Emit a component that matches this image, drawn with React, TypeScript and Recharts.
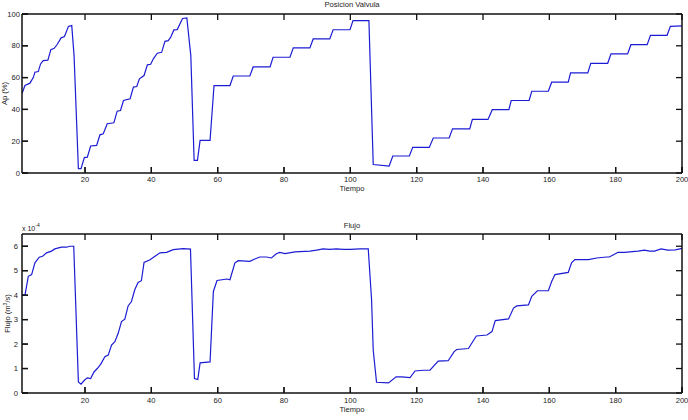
import { LineChart, Line, XAxis, YAxis, Label, ReferenceLine } from 'recharts';

const FONT = '"Liberation Sans", Arial, Helvetica, sans-serif';
const TRACE = '#1c1cd4';
const FRAME = '#111';
// negative tick size turns the tick marks inwards, MATLAB style
const TICK_IN = -6;
const PLOT_W = 660;
const PLOT_H = 159;

// Posicion de la valvula (%) en los quiebres de la respuesta
const posTiempo = [
  1, 1.9, 3.4, 4.4, 4.9, 5.9, 6.6, 7.4, 8.8, 9.7, 10.7, 11.5, 12.8, 13.8, 15, 16, 16.7,
  18, 18.8, 19.8, 20.7, 21.7, 23.5, 24.5, 25.5, 26.7, 28.7, 29.7, 30.7, 31.6, 33.6, 34.6,
  35.6, 36.4, 37.8, 38.8, 39.8, 40.6, 41.8, 43.1, 44.1, 45.1, 45.8, 46.8, 47.8, 49.4, 50.7,
  51.9, 52.9, 53.9, 54.7, 57.7, 58.9, 63.7, 64.7, 69.7, 70.7, 75.8, 76.7, 81.8, 82.8, 87.8,
  88.8, 93.8, 94.8, 99.9, 100.8, 105.6, 106.9, 111.7, 112.8, 117.8, 118.8, 123.8, 125,
  129.8, 130.8, 136, 136.8, 141.5, 142.8, 147.8, 148.5, 153.9, 154.7, 159.7, 160.7, 165.7,
  166.4, 171.6, 172.5, 177.6, 178.6, 183.6, 184.6, 189.5, 190.5, 195.5, 196.5, 200,
];
const posValvula = [
  50, 55, 56.5, 60, 63.4, 63.8, 68.6, 70.7, 71, 77.6, 78.4, 80.5, 85, 85.8, 92.2, 92.7, 73.8,
  2.7, 2.7, 9.7, 10, 17, 17.4, 24, 24.7, 31, 31.6, 38.9, 39.3, 45.6, 46.7, 54,
  54.4, 59.2, 61.3, 68, 68.4, 71.8, 75.3, 75.9, 82.8, 83.2, 85.3, 90, 90.2, 97.2, 97.5,
  73.8, 8, 8, 20.5, 20.5, 55, 55, 61, 61, 66.7, 66.7, 72.8, 72.8, 78.7, 78.7,
  84.3, 84.3, 90.1, 90.1, 95.8, 95.8, 5.3, 4.4, 10.7, 10.7, 16.1, 16.1, 22,
  22, 27.8, 27.8, 33.7, 33.7, 39.8, 39.8, 45.6, 45.6, 51.4, 51.4, 57.1, 57.1,
  63, 63, 69, 69, 74.9, 74.9, 80.7, 80.7, 86.6, 86.6, 92.2, 92.5,
];

// Flujo en unidades de 1e-4 m3/s
const flujoTiempo = [
  1, 1.9, 2.9, 3.9, 4.9, 6.2, 7.2, 8.4, 9.9, 10.9, 12.9, 14.4, 15.4, 16.6, 18, 18.8, 19.8,
  20.7, 21.7, 22.7, 23.7, 24.7, 26, 27, 28, 29, 30, 31, 32, 33, 34, 35, 36, 37, 37.8, 39.6,
  41.1, 42.6, 44.6, 46.6, 49.6, 51.8, 53, 54, 54.7, 57.7, 58.7, 59.8, 61.3, 62.8, 63.7, 65.2,
  66.2, 69.7, 71.2, 72.7, 74.7, 76.2, 77.7, 78.7, 80.3, 83.3, 87.8, 89.8, 91.8, 93.8, 95.8,
  97.9, 99.9, 102.9, 105.4, 106.4, 106.9, 107.9, 111.5, 113.8, 115.5, 118, 119.5, 122, 124,
  126.5, 129.5, 131.3, 132.1, 135.6, 138, 141.2, 142.7, 143.7, 147.7, 149.2, 150.2, 153.7,
  154.7, 156.4, 159.7, 160.7, 161.7, 165.7, 166.7, 167.7, 171.8, 174.3, 177.3, 178.1, 180.7,
  182.7, 186.7, 188.7, 190.2, 191.7, 193.7, 195.7, 198, 200,
];
const flujoE4 = [
  4.0, 4.0, 4.77, 4.84, 5.32, 5.55, 5.59, 5.73, 5.8, 5.89, 5.96, 5.96, 6.0, 6.0, 0.45, 0.36, 0.52,
  0.62, 0.59, 0.86, 1.0, 1.17, 1.48, 1.55, 1.96, 2.1, 2.44, 2.92, 3.02, 3.56, 3.74, 4.22, 4.52, 4.59, 5.34, 5.45,
  5.59, 5.73, 5.75, 5.86, 5.9, 5.88, 0.59, 0.55, 1.23, 1.27, 4.15, 4.6, 4.63, 4.66, 4.63, 5.32,
  5.41, 5.38, 5.48, 5.56, 5.56, 5.52, 5.69, 5.75, 5.7, 5.77, 5.8, 5.84, 5.89, 5.87, 5.89,
  5.87, 5.87, 5.89, 5.89, 3.81, 1.75, 0.44, 0.41, 0.66, 0.66, 0.63, 0.9, 0.93, 0.93,
  1.3, 1.32, 1.69, 1.78, 1.82, 2.33, 2.37, 2.51, 2.96, 3.03, 3.47, 3.56, 3.6,
  3.95, 4.18, 4.18, 4.56, 4.84, 4.93, 5.32, 5.45, 5.45, 5.52, 5.56, 5.56, 5.75,
  5.75, 5.8, 5.84, 5.8, 5.8, 5.89, 5.84, 5.85, 5.91,
];

const tiempoDomain = [1, 200];
const posDomain = [0, 100];
const flujoDomain = [0, 6.5];
const tiempoTicks = [20, 40, 60, 80, 100, 120, 140, 160, 180, 200];
const posTicks = [0, 20, 40, 60, 80, 100];
const flujoTicks = [0, 1, 2, 3, 4, 5, 6];

const posData = posTiempo.map((t, i) => ({ t, v: posValvula[i] }));
const flujoData = flujoTiempo.map((t, i) => ({ t, v: flujoE4[i] }));

const textStyle = { fontFamily: FONT, fontSize: 7.6, fill: '#1a1a1a' };
const axisLine = { stroke: FRAME, strokeWidth: 1.5 };
const tickLine = { stroke: FRAME, strokeWidth: 1.3 };

// shared props for the four sides of each frame; tickMargin is measured from the inner tick end
const frameAxis = {
  type: 'number' as const,
  allowDataOverflow: true,
  interval: 0 as const,
  tickSize: TICK_IN,
  axisLine,
  tickLine,
};

// Inward tick marks on all four sides, drawn as short reference segments in data units
const frameTicks = (xDom: number[], yDom: number[], xTicks: number[], yTicks: number[]) => {
  const len = -TICK_IN;
  const dy = ((yDom[1] - yDom[0]) * len) / PLOT_H;
  const dx = ((xDom[1] - xDom[0]) * len) / PLOT_W;
  const seg = (key: string, a: { x: number; y: number }, b: { x: number; y: number }) => (
    <ReferenceLine
      key={key}
      xAxisId="b"
      yAxisId="l"
      segment={[a, b]}
      stroke={FRAME}
      strokeWidth={1.3}
      ifOverflow="visible"
    />
  );
  return [
    ...xTicks.map((t) => seg(`xb${t}`, { x: t, y: yDom[0] }, { x: t, y: yDom[0] + dy })),
    ...xTicks.map((t) => seg(`xt${t}`, { x: t, y: yDom[1] }, { x: t, y: yDom[1] - dy })),
    ...yTicks.map((v) => seg(`yl${v}`, { x: xDom[0], y: v }, { x: xDom[0] + dx, y: v })),
    ...yTicks.map((v) => seg(`yr${v}`, { x: xDom[1], y: v }, { x: xDom[1] - dx, y: v })),
  ];
};

const yTitle = (text: React.ReactNode, dx: number) => (props: any) => {
  const vb = props.viewBox;
  const cx = vb.x + dx;
  const cy = vb.y + vb.height / 2;
  return (
    <text
      x={cx}
      y={cy}
      transform={`rotate(-90 ${cx} ${cy})`}
      textAnchor="middle"
      dy="0.35em"
      {...textStyle}
    >
      {text}
    </text>
  );
};

const exponentLabel = (props: any) => {
  const vb = props.viewBox;
  return (
    <text x={vb.x} y={vb.y + vb.height - 3} {...textStyle} fontSize={7}>
      x 10
      <tspan dy={-4} fontSize={5}>
        -4
      </tspan>
    </text>
  );
};

const PosicionChart = () => (
  <LineChart width={688} height={200} data={posData} margin={{ top: 0, right: 0, bottom: 0, left: 0 }}>
    <XAxis
      {...frameAxis}
      xAxisId="b"
      dataKey="t"
      domain={tiempoDomain}
      ticks={tiempoTicks}
      height={27}
      tickMargin={9.5}
      tick={textStyle}
    >
      <Label value="Tiempo" position="insideBottom" offset={9.5} {...textStyle} />
    </XAxis>
    <XAxis
      {...frameAxis}
      xAxisId="t"
      dataKey="t"
      orientation="top"
      domain={tiempoDomain}
      ticks={tiempoTicks}
      height={14}
      tick={false}
    >
      <Label value="Posicion Valvula" position="insideTop" offset={2} {...textStyle} />
    </XAxis>
    <YAxis
      {...frameAxis}
      yAxisId="l"
      dataKey="v"
      domain={posDomain}
      ticks={posTicks}
      width={22}
      tickMargin={8}
      tick={textStyle}
    >
      <Label content={yTitle('Ap (%)', 4)} />
    </YAxis>
    <YAxis
      {...frameAxis}
      yAxisId="r"
      dataKey="v"
      orientation="right"
      domain={posDomain}
      ticks={posTicks}
      width={6}
      tick={false}
    />
    {frameTicks(tiempoDomain, posDomain, tiempoTicks, posTicks)}
    <Line
      xAxisId="b"
      yAxisId="l"
      type="linear"
      dataKey="v"
      stroke={TRACE}
      strokeWidth={1.2}
      dot={false}
      isAnimationActive={false}
    />
  </LineChart>
);

const FlujoChart = () => (
  <LineChart width={688} height={220} data={flujoData} margin={{ top: 0, right: 0, bottom: 0, left: 0 }}>
    <XAxis
      {...frameAxis}
      xAxisId="b"
      dataKey="t"
      domain={tiempoDomain}
      ticks={tiempoTicks}
      height={27}
      tickMargin={10.5}
      tick={textStyle}
    >
      <Label value="Tiempo" position="insideBottom" offset={8} {...textStyle} />
    </XAxis>
    <XAxis
      {...frameAxis}
      xAxisId="t"
      dataKey="t"
      orientation="top"
      domain={tiempoDomain}
      ticks={tiempoTicks}
      height={34}
      tick={false}
    >
      <Label value="Flujo" position="insideTop" offset={23} {...textStyle} />
      <Label content={exponentLabel} />
    </XAxis>
    <YAxis
      {...frameAxis}
      yAxisId="l"
      dataKey="v"
      domain={flujoDomain}
      ticks={flujoTicks}
      width={22}
      tickMargin={10}
      tick={textStyle}
    >
      <Label
        content={yTitle(
          <>
            Flujo (m
            <tspan dy={-3} fontSize={5}>
              3
            </tspan>
            <tspan dy={3}>/s)</tspan>
          </>,
          7
        )}
      />
    </YAxis>
    <YAxis
      {...frameAxis}
      yAxisId="r"
      dataKey="v"
      orientation="right"
      domain={flujoDomain}
      ticks={flujoTicks}
      width={6}
      tick={false}
    />
    {frameTicks(tiempoDomain, flujoDomain, tiempoTicks, flujoTicks)}
    <Line
      xAxisId="b"
      yAxisId="l"
      type="linear"
      dataKey="v"
      stroke={TRACE}
      strokeWidth={1.2}
      dot={false}
      isAnimationActive={false}
    />
  </LineChart>
);

export default function App() {
  return (
    <div style={{ position: 'absolute', left: 0, top: 0, width: 688, height: 420, background: '#fff' }}>
      <div style={{ position: 'absolute', left: 0, top: 0 }}>
        <PosicionChart />
      </div>
      <div style={{ position: 'absolute', left: 0, top: 200 }}>
        <FlujoChart />
      </div>
    </div>
  );
}
